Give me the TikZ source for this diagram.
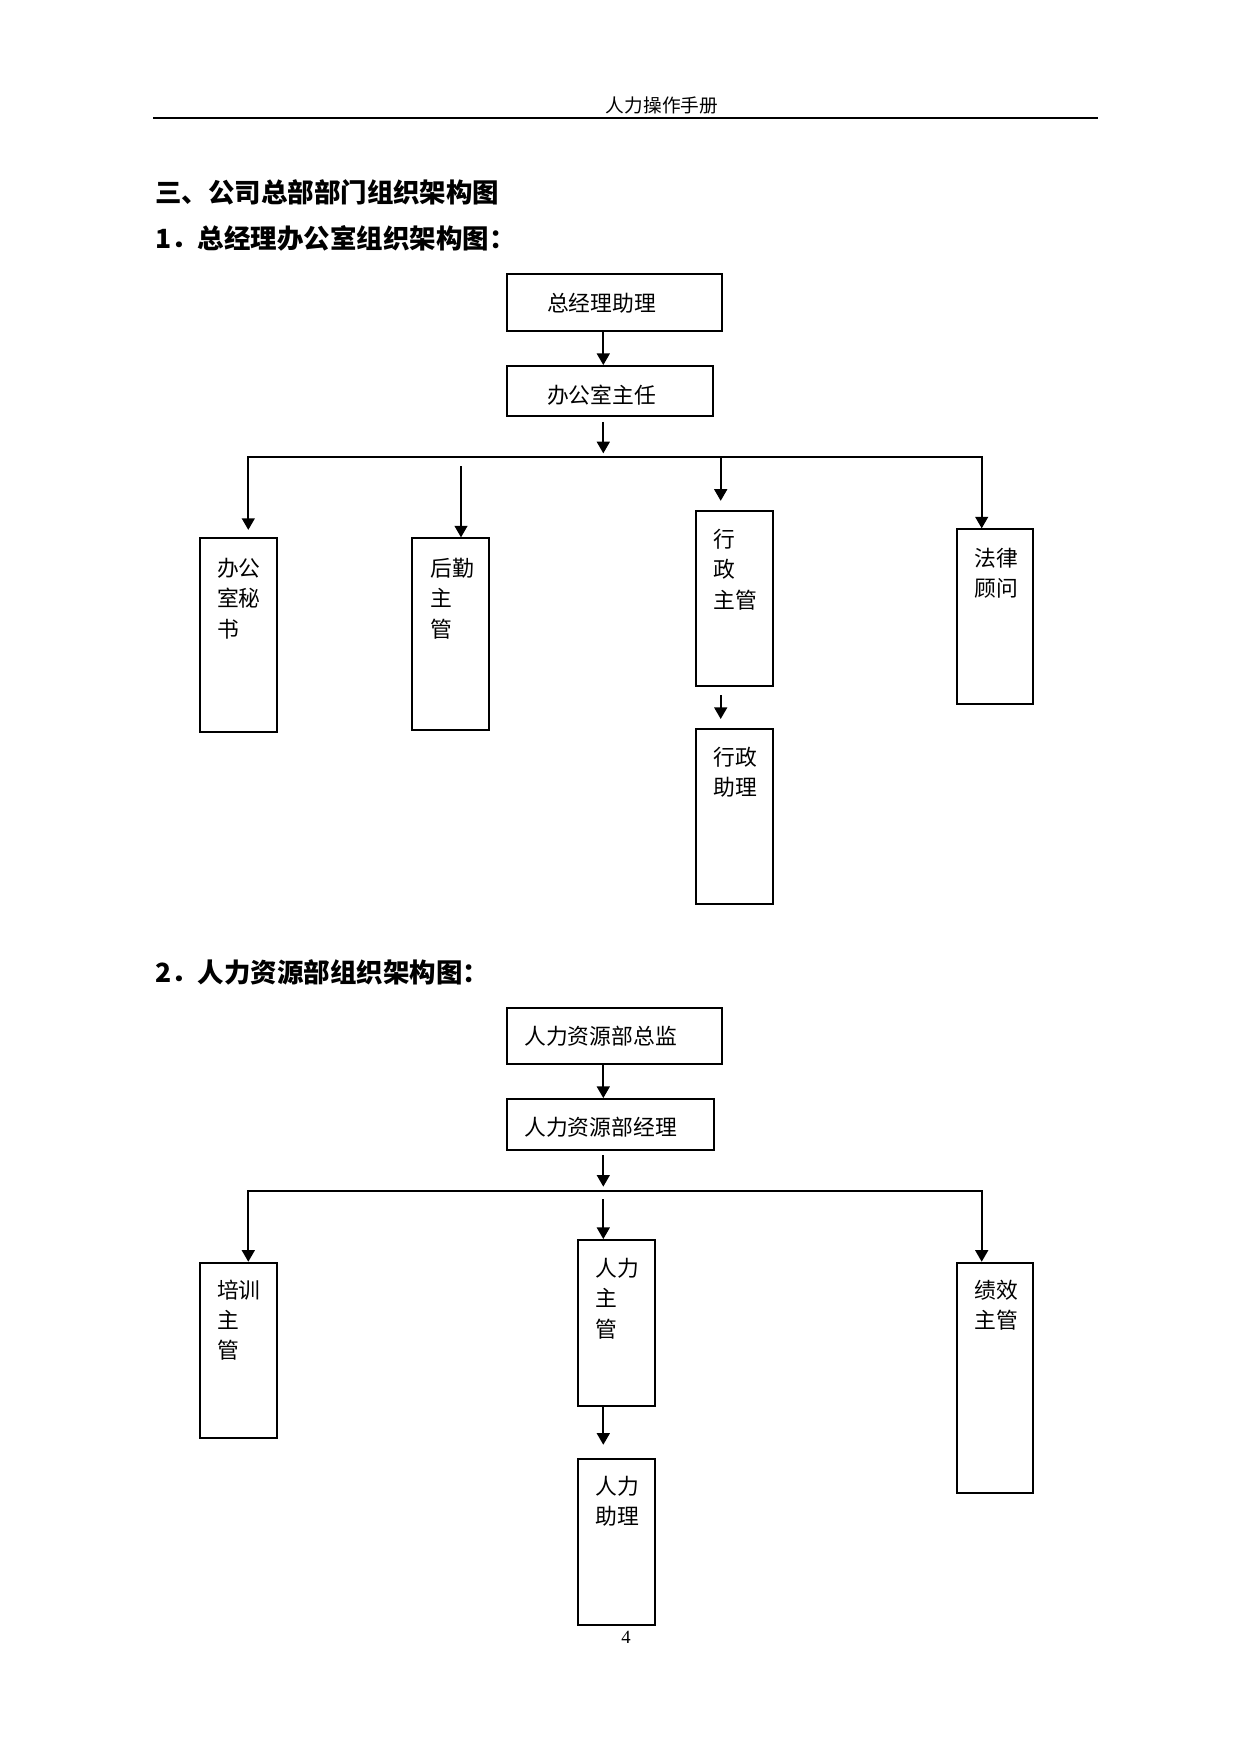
\documentclass[tikz,border=0pt]{standalone}
\usepackage{fontspec}
\setmainfont{Liberation Serif}
\newfontfamily\cjk{Noto Sans CJK SC}
\usetikzlibrary{fit,arrows.meta}
\begin{document}
\begin{tikzpicture}[x=0.016935cm,y=-0.016935cm,
  box/.style={draw, line width=0.9pt, inner sep=0pt},
  conn/.style={line width=0.9pt, line cap=rect},
  arr/.style={line width=0.9pt, -{Triangle[width=6.2pt,length=5.6pt]}},
  txt/.style={inner sep=0pt, anchor=base west, font=\cjk\fontsize{10.5}{14.64}\selectfont},
  ttl/.style={inner sep=0pt, anchor=base west, font=\cjk\bfseries\fontsize{12.75}{15}\selectfont},
]
\useasboundingbox (0,0) rectangle (1240,1754);

% header
\node[inner sep=0pt, anchor=base, font=\cjk\fontsize{9}{11}\selectfont] (hd) at (662,112) {人力操作手册};
\draw[line width=1.1pt] (153.3,117.7) -- (1098,117.7);

% titles
\node[ttl] (t0) at (155,202.4) {三、公司总部部门组织架构图};
\node[ttl] (t1) at (155,248.2) {1．总经理办公室组织架构图：};
\node[ttl] (t2) at (155,982.5) {2．人力资源部组织架构图：};

% ---------- chart 1 ----------
\node[box, fit={(507,274) (722,330.7)}] (ga) {};
\node[txt] (gat) at (546.7,311.5) {总经理助理};
\node[box, fit={(507,366) (713.3,415.7)}] (oz) {};
\node[txt] (ozt) at (546.7,403) {办公室主任};

\node[box, fit={(200,538.3) (276.7,731.7)}] (ms) {};
\node[txt] (mst) at (216.7,576.5) {\parbox[t]{4em}{办公\\室秘\\书}};
\node[box, fit={(412.3,538.3) (489.3,730)}] (hq) {};
\node[txt] (hqt) at (430,576.5) {\parbox[t]{4em}{后勤\\主\\管}};
\node[box, fit={(696,510.7) (773,686)}] (xz) {};
\node[txt] (xzt) at (713.3,547.5) {\parbox[t]{4em}{行\\政\\主管}};
\node[box, fit={(696,729.3) (773.3,904.3)}] (xa) {};
\node[txt] (xat) at (713.3,765.5) {\parbox[t]{4em}{行政\\助理}};
\node[box, fit={(956.7,529.3) (1033.3,704.3)}] (fl) {};
\node[txt] (flt) at (974,566.5) {\parbox[t]{4em}{法律\\顾问}};

\coordinate (k1) at (603.3,457.3);
\coordinate (bl) at (248.3,457.3);
\coordinate (br) at (981.7,457.3);
\coordinate (hx) at (461,457.3);
\coordinate (xx) at (720.7,457.3);

\draw[arr] (ga.south -| k1) -- (oz.north -| k1);
\draw[arr, shorten <=2.5pt, shorten >=1.9pt] (oz.south -| k1) -- (k1);
\draw[conn] (bl) -- (br);
\draw[arr, shorten >=3.6pt] (bl) -- (ms.north -| bl);
\draw[arr, shorten <=4.2pt] (hx) -- (hq.north -| hx);
\draw[arr, shorten >=4.3pt] (xx) -- (xz.north -| xx);
\draw[arr, shorten <=3.9pt, shorten >=4.5pt] (xz.south -| xx) -- (xa.north -| xx);
\draw[arr] (br) -- (fl.north -| br);

% ---------- chart 2 ----------
\node[box, fit={(507.3,1008) (722,1064)}] (zj) {};
\node[txt] (zjt) at (524,1044) {人力资源部总监};
\node[box, fit={(507.3,1099) (713.7,1150)}] (jl) {};
\node[txt] (jlt) at (524,1135) {人力资源部经理};

\node[box, fit={(200,1262.7) (276.7,1437.7)}] (px) {};
\node[txt] (pxt) at (216.7,1298) {\parbox[t]{4em}{培训\\主\\管}};
\node[box, fit={(578.3,1240) (655.3,1406)}] (rz) {};
\node[txt] (rzt) at (595,1276.5) {\parbox[t]{4em}{人力\\主\\管}};
\node[box, fit={(577.7,1459) (655.3,1625)}] (ra) {};
\node[txt] (rat) at (595,1494) {\parbox[t]{4em}{人力\\助理}};
\node[box, fit={(956.7,1262.7) (1033.3,1492.7)}] (jx) {};
\node[txt] (jxt) at (974,1298) {\parbox[t]{4em}{绩效\\主管}};

\coordinate (m2) at (603.3,1191);
\coordinate (bl2) at (248.3,1191);
\coordinate (br2) at (981.7,1191);

\draw[arr] (zj.south -| m2) -- (jl.north -| m2);
\draw[arr, shorten <=2.1pt, shorten >=2.1pt] (jl.south -| m2) -- (m2);
\draw[conn, line width=1.1pt] (bl2) -- (br2);
\draw[arr] (bl2) -- (px.north -| bl2);
\draw[arr, shorten <=4pt] (m2) -- (rz.north -| m2);
\draw[arr, shorten >=6.4pt] (rz.south -| m2) -- (ra.north -| m2);
\draw[arr] (br2) -- (jx.north -| br2);

% page number
\node[inner sep=0pt, anchor=base, font=\fontsize{9}{11}\selectfont] (pg) at (626,1643.5) {4};
\end{tikzpicture}
\end{document}
